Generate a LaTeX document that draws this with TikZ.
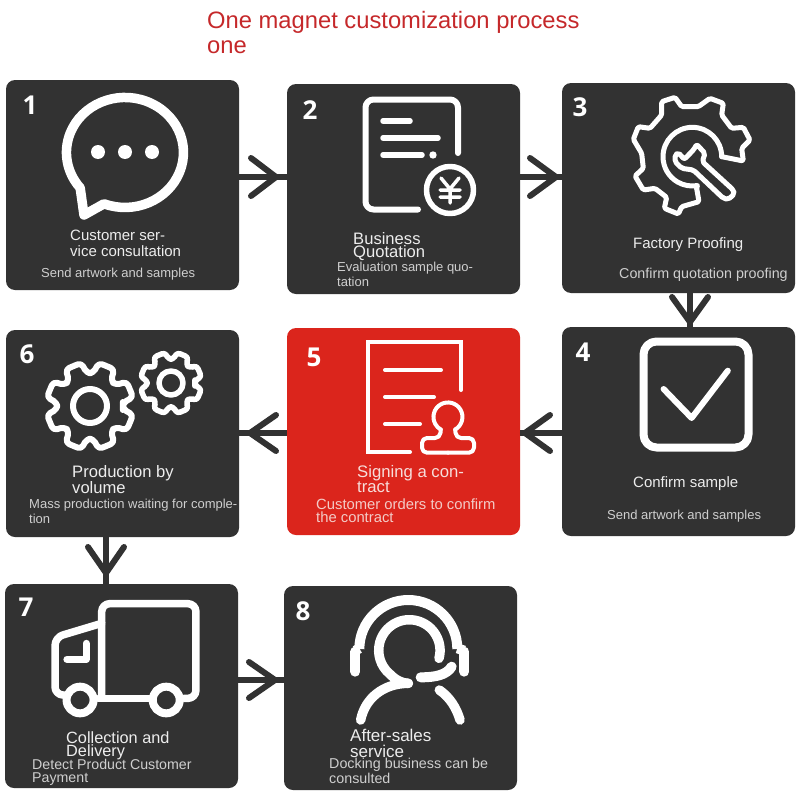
\documentclass[tikz,border=0pt]{standalone}
\usepackage{fontspec}
\setmainfont{Liberation Sans}
\newfontfamily\numfont{Open Sans}
\usetikzlibrary{decorations.markings,calc}
\definecolor{boxdark}{HTML}{323232}
\definecolor{boxred}{HTML}{DB251C}
\definecolor{titlered}{HTML}{C5282A}
\definecolor{headtxt}{HTML}{EDEDED}
\definecolor{subtxt}{HTML}{CFCFCF}
\definecolor{redhead}{HTML}{F7DDDA}
\definecolor{redsub}{HTML}{F3CBC7}
\tikzset{
  card/.style={draw=none,fill=boxdark,rounded corners=9pt,inner sep=0pt,outer sep=0pt,anchor=north west,text=white},
  redcard/.style={card,fill=boxred},
  conn/.style={draw=boxdark,line width=6.5pt},
  chev/.style n args={3}{postaction={decorate,decoration={markings,mark=at position #1pt with {\draw[draw=boxdark,line width=6pt,line cap=round,line join=miter] (-#2pt,-#3pt)--(0pt,0pt)--(-#2pt,#3pt);}}}},
  numlab/.style={font=\numfont\bfseries\fontsize{26}{26}\selectfont,text=white,inner sep=0pt},
  head/.style 2 args={text=headtxt,inner sep=0pt,anchor=base west,align=left,font=\fontsize{#1}{#2}\selectfont},
  sub/.style 2 args={text=subtxt,inner sep=0pt,anchor=base west,align=left,font=\fontsize{#1}{#2}\selectfont},
  ico/.style={draw=white,line width=#1,line cap=round,line join=round,fill=none},
  ico/.default=5pt
}
\begin{document}
\begin{tikzpicture}[x=1pt,y=1pt,yscale=-1]
\useasboundingbox (0,0) rectangle (800,800);
% cards
\node[card,minimum width=233pt,minimum height=210pt] (b1) at (6,80) {};
\node[card,minimum width=233pt,minimum height=210pt] (b2) at (287,84) {};
\node[card,minimum width=233pt,minimum height=210pt] (b3) at (562,83) {};
\node[card,minimum width=233pt,minimum height=209pt] (b4) at (562,327) {};
\node[redcard,minimum width=233pt,minimum height=207pt] (b5) at (287,328) {};
\node[card,minimum width=233pt,minimum height=207pt] (b6) at (6,330) {};
\node[card,minimum width=233pt,minimum height=204pt] (b7) at (5,584) {};
\node[card,minimum width=233pt,minimum height=204pt] (b8) at (284,586) {};
% connectors
\coordinate (c12) at (260,177);
\coordinate (c23) at (540,177);
\coordinate (c34) at (690,310);
\coordinate (c45) at (540,433);
\coordinate (c56) at (260,433);
\coordinate (c67) at (106,560);
\coordinate (c78) at (260,680);
\draw[conn,chev={37}{25}{19}] (c12 -| b1.east) -- (c12 -| b2.west);
\draw[conn,chev={36}{26}{19}] (c23 -| b2.east) -- (c23 -| b3.west);
\draw[conn,chev={29}{25}{18}] (c34 |- b3.south) -- (c34 |- b4.north);
\draw[conn,chev={37}{25}{18}] (c45 -| b4.west) -- (c45 -| b5.east);
\draw[conn,chev={37}{26}{18}] (c56 -| b5.west) -- (c56 -| b6.east);
\draw[conn,chev={36}{26}{18}] (c67 |- b6.south) -- (c67 |- b7.north);
\draw[conn,chev={37}{26}{18}] (c78 -| b7.east) -- (c78 -| b8.west);
% title
\node[text=titlered,inner sep=0pt,anchor=base west,align=left,font=\fontsize{23.75}{25}\selectfont] (title) at (207,54) {One magnet customization process\\one};
% numbers
\node[numlab] (n1) at (30,105) {1};
\node[numlab] (n2) at (310,110) {2};
\node[numlab] (n3) at (580,107) {3};
\node[numlab] (n4) at (583,352) {4};
\node[numlab] (n5) at (314,357) {5};
\node[numlab] (n6) at (27,354) {6};
\node[numlab] (n7) at (26,607) {7};
\node[numlab] (n8) at (303,611) {8};
% texts
\node[head={15}{16pt}] (t1) at (70,256) {Customer ser-\\vice consultation};
\node[sub={13}{15pt}] (s1) at (41,277) {Send artwork and samples};
\node[head={16.6}{13pt}] (t2) at (353,257) {Business\\Quotation};
\node[sub={13}{15pt}] (s2) at (337,286) {Evaluation sample quo-\\tation};
\node[head={15}{15pt}] (t3) at (633,248) {Factory Proofing};
\node[sub={14.3}{15pt}] (s3) at (619,278) {Confirm quotation proofing};
\node[head={15}{15pt}] (t4) at (633,487) {Confirm sample};
\node[sub={13}{15pt}] (s4) at (607,519) {Send artwork and samples};
\node[head={16.7}{15pt},text=redhead] (t5) at (357,492) {Signing a con-\\tract};
\node[sub={14.8}{13pt},text=redsub] (s5) at (316,522) {Customer orders to confirm\\the contract};
\node[head={16.6}{16pt}] (t6) at (72,493) {Production by\\volume};
\node[sub={13}{15pt}] (s6) at (29,523) {Mass production waiting for comple-\\tion};
\node[head={16.3}{13pt}] (t7) at (66,756) {Collection and\\Delivery};
\node[sub={14.2}{13pt}] (s7) at (32,782) {Detect Product Customer\\Payment};
\node[head={17}{16pt}] (t8) at (350,757) {After-sales\\service};
\node[sub={14.3}{15pt}] (s8) at (329,783) {Docking business can be\\consulted};
% icon 1: speech bubble
\draw[ico=9.5pt] (104,203.8) arc[start angle=111,end angle=-220,x radius=58.5,y radius=55] -- (84,215) -- cycle;
\foreach \dx in {98,125,152} \fill[white] (\dx,152) circle[radius=7];
% icon 2: quotation
\draw[ico=6pt,rounded corners=8pt] (458,153) -- (458,99.5) -- (365.5,99.5) -- (365.5,209.5) -- (418,209.5);
\draw[ico=5.5pt] (383,121) -- (410,121) (383,138) -- (438,138) (383,155) -- (422,155);
\fill[white] (433,155) circle[radius=3.7];
\draw[ico=5.5pt] (450,190) circle[radius=23.5];
\draw[ico=3.5pt] (441,178) -- (450,189) -- (459,178) (440,190) -- (460,190) (440,197) -- (460,197) (450,189) -- (450,203);
% icon 3: gear + wrench
\begin{scope}[shift={(625,90)},scale=1/3]
\draw[ico=5pt,rounded corners=1.5pt] (290,200) -- (355,213) -- (350,175) -- (375,150) -- (355,112) -- (320,115) -- (290,75) -- (295,40) -- (255,25) -- (220,50) -- (170,50) -- (150,22) -- (110,35) -- (110,75) -- (75,115) -- (40,110) -- (25,148) -- (50,190) -- (55,235) -- (30,258) -- (55,300) -- (90,295) -- (125,322) -- (118,355) -- (160,372) -- (170,350) -- (222,335) -- (215,295);
\draw[ico=5pt] (290,200) arc[start angle=0,end angle=-280,radius=88] -- (215,295);
\draw[ico=5pt,rounded corners=2pt] (232,215) -- (240,190) -- (215,163) -- (207,178) -- (178,208) -- (160,188) -- (150,195) -- (150,215) -- (170,235) -- (205,240) -- (295,325) -- (310,328) -- (328,312) -- (325,300) -- cycle;
\end{scope}
% icon 4: check box
\draw[ico=8pt,rounded corners=13pt] (643.5,341.5) rectangle (748.5,447.5);
\draw[ico=6pt] (663.6,389) -- (691.6,418) -- (727.8,370.7);
% icon 5: contract + stamp
\draw[ico=4pt,line cap=round,line join=miter] (461,390) -- (461,342) -- (367.5,342) -- (367.5,452) -- (410,452);
\draw[ico=4pt] (385,370) -- (441,370) (385,397) -- (434,397) (385,424) -- (420,424);
\draw[ico=4pt] (455.2,429.5) arc[start angle=60,end angle=-240,radius=14.5];
\draw[ico=4pt,rounded corners=5pt] (448,452.7) -- (474,452.7) -- (474,438) -- (456,438) -- (455.2,429.5);
\draw[ico=4pt,rounded corners=5pt] (448,452.7) -- (422,452.7) -- (422,438) -- (440,438) -- (440.8,429.5);
% icon 6: gears
\begin{scope}[shift={(90,406)}]
\draw[ico=6pt,rounded corners=4pt] (0:33) \foreach \a in {22.5,67.5,...,337.5} { -- ({\a-17}:33) -- ({\a-11}:44) -- ({\a+11}:44) -- ({\a+17}:33) } -- cycle;
\draw[ico=6pt] (0,0) circle[radius=17];
\end{scope}
\begin{scope}[shift={(171,383)}]
\draw[ico=5.5pt,rounded corners=3pt] (0:24) \foreach \a in {22.5,67.5,...,337.5} { -- ({\a-17}:24) -- ({\a-11}:31) -- ({\a+11}:31) -- ({\a+17}:24) } -- cycle;
\draw[ico=5.5pt] (0,0) circle[radius=12];
\end{scope}
% icon 7: truck
\begin{scope}[shift={(0,560)},xscale=1/2.96,yscale=1/3]
\draw[ico=7.5pt,rounded corners=8pt] (301,405) -- (301,131) -- (580,131) -- (580,415) -- (545,415);
\draw[ico=7.5pt] (290,415) -- (445,415);
\draw[ico=7.5pt,rounded corners=8pt] (301,190) -- (163,232) -- (163,405) -- (190,405);
\draw[ico=7pt] (255,250) -- (255,298) -- (198,298);
\draw[ico=8pt] (237,420) circle[radius=40];
\draw[ico=8pt] (492,420) circle[radius=40];
\end{scope}
% icon 8: agent
\begin{scope}[shift={(340,590)},scale=1/3]
\draw[ico=9.5pt] (297,205) arc[start angle=15,end angle=-230,radius=92] .. controls (165,268) and (180,278) .. (205,280);
\draw[ico=9.5pt] (205,280) .. controls (130,280) and (75,325) .. (62,390);
\draw[ico=10pt,line cap=butt] (58,177) arc[start angle=180,end angle=360,radius=147];
\draw[ico=10pt] (46,185) -- (46,245) (373,185) -- (373,245);
\draw[ico=10pt,line cap=butt] (46,182) -- (58,175) (373,182) -- (352,175);
\draw[ico=10pt] (242,262) .. controls (285,262) and (320,255) .. (335,230);
\draw[ico=9.5pt] (298,300) .. controls (330,322) and (350,355) .. (360,390);
\end{scope}
\end{tikzpicture}
\end{document}
